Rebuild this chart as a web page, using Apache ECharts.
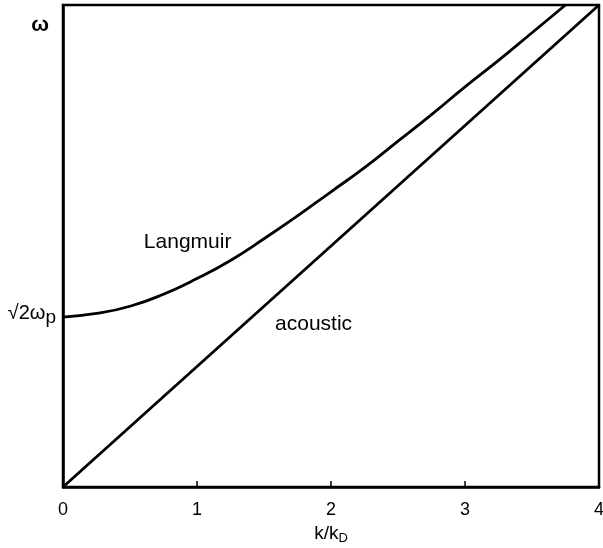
<!DOCTYPE html>
<html>
<head>
<meta charset="utf-8">
<script src="https://cdn.jsdelivr.net/npm/echarts@6/dist/echarts.min.js"></script>
<style>
  html, body { margin: 0; padding: 0; background: #fff; }
  #chart { width: 603px; height: 548px; }
</style>
</head>
<body>
<div id="chart"></div>
<script>
// Dispersion relations: frequency versus normalised wavenumber k/kD
const kValues = [0, 0.25, 0.5, 0.75, 1, 1.25, 1.5, 1.75, 2, 2.25, 2.5, 2.75, 3, 3.25, 3.5, 3.75];
const langmuirOmega = [1.41, 1.44, 1.50, 1.60, 1.73, 1.88, 2.06, 2.25, 2.45, 2.65, 2.87, 3.09, 3.32, 3.54, 3.77, 4.00];
const acousticK = [0, 4];
const acousticOmega = [0, 4];
const xTickLabels = ['0', '1', '2', '3', '4'];
const omegaTop = 3.83;      // height of the ω axis label
const plasmaLevel = 1.414;  // √2 ωp

const FONT = '"Liberation Sans", Arial, Helvetica, sans-serif';
const chart = echarts.init(document.getElementById('chart'), null, { renderer: 'canvas' });

const langmuirData = kValues.map((k, i) => [k, langmuirOmega[i]]);
const acousticData = acousticK.map((k, i) => [k, acousticOmega[i]]);

chart.setOption({
  animation: false,
  backgroundColor: '#fff',
  grid: {
    left: 63, right: 4, top: 5, bottom: 61,
    outerBoundsMode: 'none', containLabel: false,
    show: true, borderColor: '#000', borderWidth: 2.5
  },
  xAxis: {
    type: 'value', min: 0, max: 4, interval: 1,
    name: 'k/k{sub|D}', nameLocation: 'middle', nameGap: 34,
    nameTextStyle: {
      fontFamily: FONT, fontSize: 19, color: '#000',
      rich: { sub: { fontFamily: FONT, fontSize: 13, color: '#000', padding: [10, 0, 0, 0] } }
    },
    axisLine: { show: true, lineStyle: { color: '#000', width: 2.5 } },
    axisTick: { show: true, inside: true, length: 6, lineStyle: { color: '#000', width: 1.5 } },
    axisLabel: { fontFamily: FONT, fontSize: 18, color: '#000', margin: 14,
      formatter: v => xTickLabels[Math.round(v)] },
    splitLine: { show: false }
  },
  yAxis: {
    type: 'value', min: 0, max: 4, interval: 1,
    axisLine: { show: true, lineStyle: { color: '#000', width: 2.5 } },
    axisTick: { show: false },
    axisLabel: { show: false },
    splitLine: { show: false }
  },
  series: [
    {
      name: 'Langmuir', type: 'line', data: langmuirData, smooth: true,
      showSymbol: false, lineStyle: { color: '#000', width: 2.8 }
    },
    {
      name: 'acoustic', type: 'line', data: acousticData,
      showSymbol: false, lineStyle: { color: '#000', width: 2.8 }
    }
  ]
});

// Place the text annotations in data coordinates
function px(k, w) { return chart.convertToPixel({ gridIndex: 0 }, [k, w]); }
const pOmega = px(0, omegaTop);
const pPlasma = px(0, plasmaLevel);
const pLang = px(0.93, 2.03);
const pAc = px(1.87, 1.35);

chart.setOption({
  graphic: [
    { type: 'text', x: pOmega[0] - 23, y: pOmega[1], style: {
      text: 'ω', font: 'bold 21px ' + FONT, fill: '#000', align: 'center', verticalAlign: 'middle' } },
    { type: 'text', x: pPlasma[0] - 7, y: pPlasma[1] - 3, style: {
      text: '√2ω{sub|p}', fill: '#000', align: 'right', verticalAlign: 'middle',
      font: '20px ' + FONT,
      rich: { sub: { font: '19px ' + FONT, fill: '#000', padding: [9, 0, 0, 0] } } } },
    { type: 'text', x: pLang[0], y: pLang[1], style: {
      text: 'Langmuir', font: '21px ' + FONT, fill: '#000', align: 'center', verticalAlign: 'middle' } },
    { type: 'text', x: pAc[0], y: pAc[1], style: {
      text: 'acoustic', font: '21px ' + FONT, fill: '#000', align: 'center', verticalAlign: 'middle' } }
  ]
});
</script>
</body>
</html>
